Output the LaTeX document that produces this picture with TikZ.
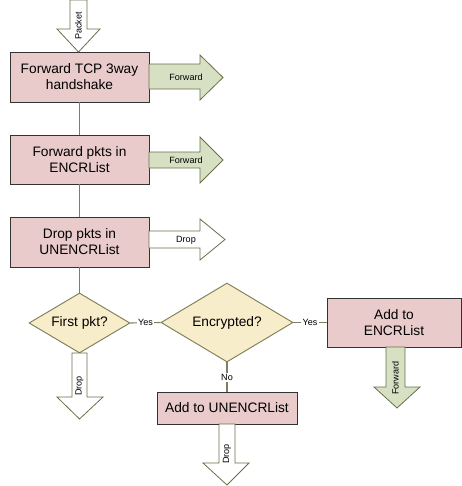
\documentclass[tikz,border=0pt]{standalone}
\usepackage{fontspec}
\setmainfont{Liberation Sans}
\usetikzlibrary{shapes.geometric}
\definecolor{boxfill}{HTML}{EACBCB}
\definecolor{boxline}{HTML}{333333}
\definecolor{diafill}{HTML}{F8EDCA}
\definecolor{dialine}{HTML}{7E7E58}
\definecolor{grnfill}{HTML}{D8E0C3}
\definecolor{arrline}{HTML}{66714A}
\definecolor{conn}{HTML}{7E7E60}
\tikzset{
  procbox/.style={draw=boxline, fill=boxfill, line width=0.7pt, align=center,
    font=\fontsize{10.3}{12}\selectfont, inner sep=0pt},
  decision/.style={diamond, draw=dialine, fill=diafill, line width=0.7pt, inner sep=0pt,
    font=\fontsize{10.3}{12}\selectfont},
  link/.style={draw=conn, line width=0.8pt},
  linklabel/.style={fill=white, inner sep=1pt, font=\fontsize{6.8}{8}\selectfont},
  blockarrow/.style={draw=arrline, line width=0.6pt, line join=miter},
  greenarrow/.style={blockarrow, fill=grnfill},
  whitearrow/.style={blockarrow, fill=white},
  arrlabel/.style={font=\fontsize{6.8}{8}\selectfont, inner sep=0pt}
}
\begin{document}
\begin{tikzpicture}[x=0.75pt, y=-0.75pt]
\useasboundingbox (0,0) rectangle (461,486);

% boxes and decisions
\node[procbox, minimum width=104.25pt, minimum height=37.5pt] (b1) at (79.5,77) {Forward TCP 3way\\handshake};
\node[procbox, minimum width=104.25pt, minimum height=36.75pt] (b2) at (79.5,159.5) {Forward pkts in\\ENCRList};
\node[procbox, minimum width=104.25pt, minimum height=37.5pt] (b3) at (79.5,242) {Drop pkts in\\UNENCRList};
\node[decision, minimum width=75.75pt, minimum height=45pt, aspect=1.68] (d1) at (79.5,323) {First pkt?};
\node[decision, minimum width=99pt, minimum height=59.25pt, aspect=1.67] (d2) at (227,322.5) {Encrypted?};
\node[procbox, minimum width=100.5pt, minimum height=36.75pt] (b4) at (394,322.5) {Add to\\ENCRList};
\node[procbox, minimum width=105pt, minimum height=24pt] (b5) at (227,408) {Add to UNENCRList};

% connectors
\draw[link] (b1.south) -- (b2.north);
\draw[link] (b2.south) -- (b3.north);
\draw[link] (b3.south) -- (d1.north);
\draw[link] (d1.east) -- node[linklabel] (lyes1) {Yes} (d2.west);
\draw[link] (d2.east) -- node[linklabel] (lyes2) {Yes} (b4.west);
\draw[link] (d2.south) -- node[linklabel] (lno) {No} (b5.north);

% block arrows
\draw[whitearrow] (70,0) -- (87,0) -- (87,29) -- (100,29) -- (78.5,52) -- (57,29) -- (70,29) -- cycle;
\node[arrlabel, rotate=90] (lpacket) at (78.5,26) {Packet};

\draw[greenarrow] (149,64) -- (200,64) -- (200,55) -- (223,77.5) -- (200,100) -- (200,89) -- (149,89) -- cycle;
\node[arrlabel] (lfw1) at (186,77) {Forward};

\draw[greenarrow] (149,152) -- (200,152) -- (200,137) -- (223,160) -- (200,183) -- (200,168) -- (149,168) -- cycle;
\node[arrlabel] (lfw2) at (186,160) {Forward};

\draw[whitearrow] (149,231) -- (200,231) -- (200,219) -- (225,239.5) -- (200,260) -- (200,248) -- (149,248) -- cycle;
\node[arrlabel] (ldrop1) at (186,240) {Drop};

\draw[whitearrow] (72,353) -- (87,353) -- (87,397) -- (103,397) -- (79.5,419) -- (57,397) -- (72,397) -- cycle;
\node[arrlabel, rotate=90] (ldrop2) at (79.5,386) {Drop};

\draw[whitearrow] (219,424) -- (235,424) -- (235,463) -- (249,463) -- (227,485) -- (203,463) -- (219,463) -- cycle;
\node[arrlabel, rotate=90] (ldrop3) at (227,454) {Drop};

\draw[greenarrow] (386,347) -- (405,347) -- (405,387) -- (420,387) -- (397,408) -- (374,387) -- (386,387) -- cycle;
\node[arrlabel, rotate=90] (lfw3) at (395.5,378) {Forward};
\end{tikzpicture}
\end{document}
